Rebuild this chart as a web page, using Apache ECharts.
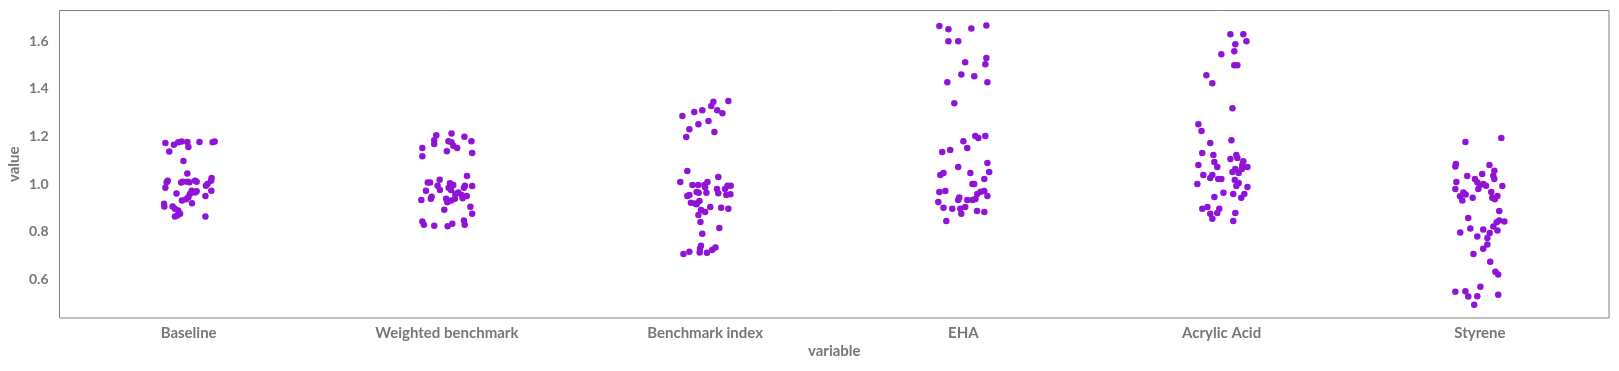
<!DOCTYPE html>
<html>
<head>
<meta charset="utf-8">
<script src="https://cdn.jsdelivr.net/npm/echarts@6/dist/echarts.min.js"></script>
<style>
html,body{margin:0;padding:0;background:#fff;}
#chart{width:1619px;height:371px;}
</style>
</head>
<body>
<div id="chart"></div>
<script>
const categories = ['Baseline', 'Weighted benchmark', 'Benchmark index', 'EHA', 'Acrylic Acid', 'Styrene'];
const yTicks = [0.6, 0.8, 1.0, 1.2, 1.4, 1.6];

// values and horizontal strip-jitter (in category units)
const baselineValues = [1.172,1.165,1.175,1.178,1.176,1.155,1.176,1.175,1.178,1.136,1.097,1.044,1.014,1.007,0.984,1.006,1.010,1.010,1.007,1.014,1.010,1.025,1.014,1.000,0.993,0.972,0.960,0.972,0.970,0.965,0.958,0.945,0.950,0.931,0.919,0.917,0.906,0.906,0.896,0.889,0.875,0.864,0.868,0.864,0.936];
const baselineJitter = [-0.090,-0.057,-0.040,-0.027,-0.005,-0.001,0.042,0.093,0.101,-0.075,-0.020,-0.005,-0.081,-0.085,-0.090,-0.029,-0.023,-0.005,0.003,0.025,0.031,0.089,0.087,0.073,0.067,0.088,-0.047,0.012,0.031,0.025,0.005,-0.001,0.065,-0.026,0.013,-0.095,-0.094,-0.062,-0.053,-0.040,-0.033,-0.053,-0.044,0.065,-0.010];

const weightedValues = [1.205,1.184,1.168,1.212,1.179,1.175,1.161,1.151,1.198,1.180,1.151,1.117,1.138,1.130,1.034,1.006,1.006,1.018,0.993,0.975,0.972,0.947,0.938,0.933,1.003,0.996,0.984,0.975,0.965,0.993,0.984,0.992,0.958,0.954,0.940,0.950,0.938,0.924,0.931,0.938,0.892,0.905,0.875,0.843,0.829,0.825,0.823,0.833,0.847,0.829];
const weightedJitter = [-0.041,-0.049,-0.049,0.018,0.006,0.018,0.025,0.040,0.068,0.095,-0.095,-0.095,0.000,0.098,0.078,-0.074,-0.065,-0.028,-0.036,-0.027,-0.081,-0.059,-0.062,-0.099,0.012,0.025,0.007,0.016,0.044,0.070,0.066,0.098,0.033,0.057,0.061,0.077,-0.003,0.002,0.017,0.031,-0.010,0.091,0.098,-0.095,-0.089,-0.049,0.003,0.021,0.066,0.069];

const benchmarkValues = [1.285,1.302,1.310,1.327,1.345,1.310,1.297,1.348,1.230,1.251,1.264,1.197,1.218,1.055,1.009,1.030,0.996,0.996,0.996,1.009,0.986,0.967,0.963,0.963,0.979,0.961,0.979,0.993,0.993,0.954,0.957,0.950,0.954,0.921,0.918,0.929,0.915,0.891,0.883,0.870,0.904,0.900,0.896,0.841,0.816,0.791,0.707,0.716,0.713,0.741,0.728,0.712,0.723,0.734];
const benchmarkJitter = [-0.088,-0.042,-0.011,0.024,0.032,0.047,0.067,0.090,-0.061,-0.026,0.013,-0.073,0.036,-0.069,-0.096,0.051,-0.049,-0.027,-0.003,0.009,0.000,-0.033,-0.025,0.005,0.046,0.051,0.077,0.087,0.099,0.082,0.098,-0.069,-0.061,-0.055,-0.039,-0.022,-0.033,-0.016,0.000,-0.026,0.020,0.062,0.090,-0.018,0.055,-0.011,-0.084,-0.061,-0.021,-0.016,-0.020,0.007,0.027,0.040];

const ehaValues = [1.663,1.649,1.653,1.665,1.599,1.599,1.529,1.502,1.511,1.460,1.452,1.427,1.427,1.339,1.201,1.193,1.201,1.180,1.151,1.134,1.143,1.071,1.088,1.050,1.046,1.038,1.046,1.021,1.000,1.000,0.967,0.971,0.944,0.933,0.925,0.900,0.896,0.896,0.875,0.904,0.933,0.933,0.937,0.958,0.968,0.971,0.950,0.887,0.883,0.845];
const ehaJitter = [-0.093,-0.058,0.031,0.089,-0.058,-0.020,0.089,0.085,0.007,-0.008,0.042,-0.062,0.093,-0.035,0.046,0.058,0.085,0.000,0.015,-0.082,-0.051,-0.020,0.093,0.100,0.027,-0.089,-0.077,0.081,0.035,0.042,-0.093,-0.070,-0.016,-0.020,-0.097,-0.077,-0.043,-0.012,-0.008,0.007,0.015,0.035,0.047,0.054,0.067,0.081,0.093,0.053,0.081,-0.066];

const acrylicValues = [1.628,1.628,1.586,1.599,1.557,1.544,1.498,1.498,1.456,1.423,1.318,1.251,1.222,1.172,1.184,1.130,1.122,1.092,1.071,1.080,1.038,1.025,1.038,1.021,1.021,1.000,1.105,1.122,1.109,1.096,1.080,1.071,1.050,1.063,1.046,1.063,1.017,1.004,0.992,0.988,0.963,0.958,0.946,0.942,0.958,0.896,0.904,0.875,0.854,0.879,0.896,0.879,0.845];
const acrylicJitter = [0.034,0.084,0.053,0.096,0.049,-0.001,0.049,0.061,-0.059,-0.036,0.042,-0.090,-0.078,-0.044,0.038,-0.075,-0.032,-0.028,-0.017,-0.090,-0.071,-0.044,-0.036,-0.013,-0.001,-0.094,0.034,0.057,0.061,0.084,0.080,0.100,0.042,0.053,0.066,0.078,0.051,0.066,0.057,0.100,0.007,0.045,-0.028,0.076,0.088,-0.075,-0.055,-0.044,-0.036,-0.017,-0.009,0.053,0.045];

const styreneValues = [1.176,1.193,1.084,1.074,1.080,1.056,1.035,1.021,1.034,1.042,1.009,0.979,1.021,1.007,0.996,1.000,0.993,0.979,0.992,0.964,0.949,0.956,0.931,0.942,0.967,0.950,0.942,0.936,0.887,0.858,0.840,0.847,0.843,0.822,0.805,0.813,0.797,0.809,0.795,0.780,0.774,0.746,0.728,0.707,0.674,0.632,0.620,0.548,0.550,0.528,0.529,0.569,0.536,0.494];
const styreneJitter = [-0.056,0.083,-0.093,-0.095,0.037,0.056,0.052,0.056,-0.049,0.009,-0.091,-0.095,-0.019,-0.010,0.000,0.013,0.024,-0.006,0.087,-0.064,-0.077,-0.055,-0.068,-0.028,0.044,0.068,0.048,0.058,0.075,-0.045,0.065,0.075,0.095,0.052,0.068,-0.037,-0.076,0.013,0.038,-0.010,0.029,0.029,0.013,-0.025,0.040,0.060,0.071,-0.095,-0.056,-0.045,-0.010,0.002,0.071,-0.022];

const groups = [
  [baselineValues, baselineJitter],
  [weightedValues, weightedJitter],
  [benchmarkValues, benchmarkJitter],
  [ehaValues, ehaJitter],
  [acrylicValues, acrylicJitter],
  [styreneValues, styreneJitter]
];
const points = [];
groups.forEach(([vals, jit], i) => {
  vals.forEach((v, k) => points.push([i + jit[k], v]));
});

const textColor = '#777777';
const font = 'Lato, "Open Sans", sans-serif';

const chart = echarts.init(document.getElementById('chart'), null, {renderer: 'canvas'});
chart.setOption({
  animation: false,
  backgroundColor: '#ffffff',
  grid: {left: 59.5, right: 10, top: 10.5, bottom: 53, show: true, borderColor: '#808080', borderWidth: 1, containLabel: false, outerBoundsMode: 'none'},
  xAxis: [
    {
      type: 'category', data: categories, boundaryGap: true,
      name: 'variable', nameLocation: 'middle', nameGap: 26, nameMoveOverlap: false,
      nameTextStyle: {color: textColor, fontFamily: font, fontSize: 15, fontWeight: 'bold'},
      axisLine: {show: false}, axisTick: {show: false}, splitLine: {show: false},
      axisLabel: {color: textColor, fontFamily: font, fontSize: 15, fontWeight: 'bold', margin: 8}
    },
    {
      type: 'value', min: -0.5, max: 5.5, show: false
    }
  ],
  yAxis: {
    type: 'value', min: 0.438, max: 1.728,
    name: 'value', nameLocation: 'middle', nameGap: 38, nameRotate: 90, nameMoveOverlap: false,
    nameTextStyle: {color: textColor, fontFamily: font, fontSize: 15, fontWeight: 'bold'},
    axisLine: {show: false}, axisTick: {show: false}, splitLine: {show: false},
    axisLabel: {
      color: textColor, fontFamily: font, fontSize: 14, fontWeight: 'bold', margin: 11,
      customValues: yTicks,
      formatter: v => v.toFixed(1)
    }
  },
  series: [{
    type: 'scatter', xAxisIndex: 1, data: points,
    symbolSize: 6.5,
    itemStyle: {color: '#9013D8', opacity: 1}
  }]
});
</script>
</body>
</html>
